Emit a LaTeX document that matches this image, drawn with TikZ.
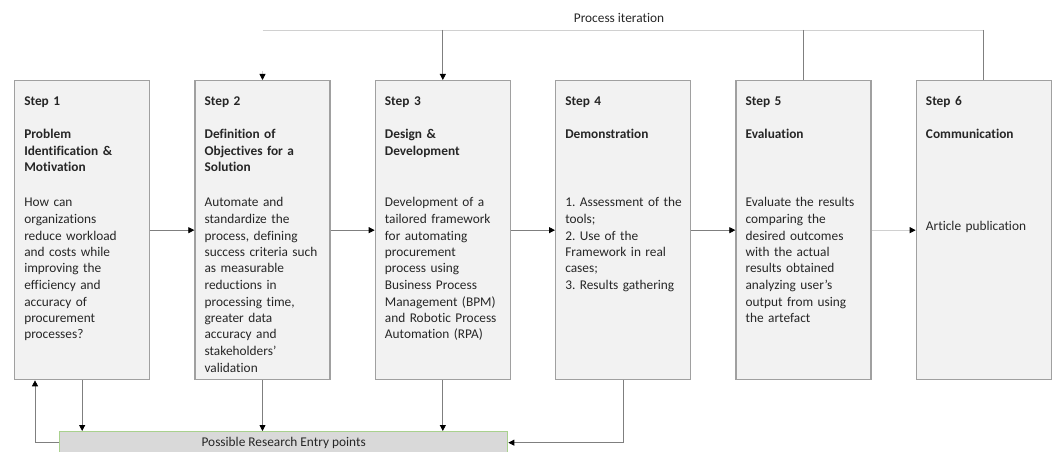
\documentclass[tikz,border=0pt]{standalone}
\usepackage{fontspec}
\setmainfont{Carlito}[Ligatures=NoCommon]
\usetikzlibrary{positioning, arrows.meta, calc}
\definecolor{box-fill}{HTML}{F2F2F2}
\definecolor{box-line}{HTML}{A0A0A0}
\definecolor{bar-fill}{HTML}{D9D9D9}
\definecolor{bar-line}{HTML}{A9D18E}
\definecolor{conn}{HTML}{7F7F7F}
\definecolor{conn-light}{HTML}{D0D0D0}
\definecolor{txt}{HTML}{262626}
\newlength{\lskip}
\setlength{\lskip}{12.375pt}
\frenchspacing

\begin{document}
\begin{tikzpicture}[x=0.75pt, y=0.75pt, node distance=33pt,
	font=\fontsize{10}{12.375}\selectfont, text=txt,
	stepbox/.style={draw=box-line, line width=1pt, fill=box-fill, minimum width=101.25pt, minimum height=224.25pt, inner sep=0pt},
	headtext/.style={anchor=base west, text width=88.5pt, align=left, inner sep=0pt, font=\fontsize{10}{12.375}\selectfont\bfseries},
	bodytext/.style={anchor=base west, text width=88.5pt, align=left, inner sep=0pt},
	flow/.style={draw=conn, line width=0.6pt, -{Triangle[length=4.5pt, width=4.5pt, color=black]}}]
							\useasboundingbox (0,0) rectangle (1052,-452);
							\node[stepbox, anchor=north west] (s1) at (14,-80) {};
							\node[stepbox, right =of s1] (s2) {};
							\node[stepbox, right =of s2] (s3) {};
							\node[stepbox, right =of s3] (s4) {};
							\node[stepbox, right =of s4] (s5) {};
							\node[stepbox, right =of s5] (s6) {};
							\node[headtext] (h1) at ($(s1.north west)+(10,-26)$) {Step 1\\[\lskip]Problem\\Identification \&\\Motivation};
							\node[headtext] (h2) at ($(s2.north west)+(10,-26)$) {Step 2\\[\lskip]Definition of\\Objectives for a\\Solution};
							\node[headtext] (h3) at ($(s3.north west)+(10,-26)$) {Step 3\\[\lskip]Design \&\\Development};
							\node[headtext] (h4) at ($(s4.north west)+(10,-26)$) {Step 4\\[\lskip]Demonstration};
							\node[headtext] (h5) at ($(s5.north west)+(10,-26)$) {Step 5\\[\lskip]Evaluation};
							\node[headtext] (h6) at ($(s6.north west)+(10,-26)$) {Step 6\\[\lskip]Communication};
							\node[bodytext] (b1) at ($(s1.north west)+(10,-127)$) {How can\\organizations\\reduce workload\\and costs while\\improving the\\efficiency and\\accuracy of\\procurement\\processes?};
							\node[bodytext] (b2) at ($(s2.north west)+(10,-127)$) {Automate and\\standardize the\\process, defining\\success criteria such\\as measurable\\reductions in\\processing time,\\greater data\\accuracy and\\stakeholders’\\validation};
							\node[bodytext] (b3) at ($(s3.north west)+(10,-127)$) {Development of a\\tailored framework\\for automating\\procurement\\process using\\Business Process\\Management (BPM)\\and Robotic Process\\Automation (RPA)};
							\node[bodytext] (b4) at ($(s4.north west)+(10,-127)$) {1. Assessment of the\\tools;\\2. Use of the\\Framework in real\\cases;\\3. Results gathering};
							\node[bodytext] (b5) at ($(s5.north west)+(10,-127)$) {Evaluate the results\\comparing the\\desired outcomes\\with the actual\\results obtained\\analyzing user’s\\output from using\\the artefact};
							\node[bodytext] (b6) at ($(s6.north west)+(10,-151)$) {Article publication};
							\node[draw=bar-line, fill=bar-fill, line width=1pt, minimum width=336pt, minimum height=16.5pt, inner sep=0pt, anchor=north west] (entry) at (59,-431) {Possible Research Entry points};
							\node (iter) at (619,-18) {Process iteration};
							\coordinate (it) at ($(s2.north)+(0,50)$);
							\coordinate (it2) at ($(s2.north)+(0,9)$);
							\coordinate (fb) at ($(s1.south west)+(21,0)$);
							\draw[conn-light, line width=0.6pt] (it) -- (it -| s6.north);
							\draw[conn, line width=0.6pt] (s5.north |- it) -- (s5.north);
							\draw[conn, line width=0.6pt] (s6.north |- it) -- (s6.north);
							\draw[flow] (s3.north |- it) -- (s3.north);
							\draw[flow, draw=conn-light] (it2) -- (s2.north);
							\draw
							(s1) edge[flow] (s2)
							(s2) edge[flow] (s3)
							(s3) edge[flow] (s4)
							(s4) edge[flow] (s5)
							(s5) edge[flow, draw=conn-light] (s6);
							\draw[flow] (s1.south) -- (s1.south |- entry.north);
							\draw[flow] (s2.south) -- (s2.south |- entry.north);
							\draw[flow] (s3.south) -- (s3.south |- entry.north);
							\draw[flow] (s4.south) |- (entry.east);
							\draw[flow] (entry.west) -| (fb);
						\end{tikzpicture}
\end{document}
